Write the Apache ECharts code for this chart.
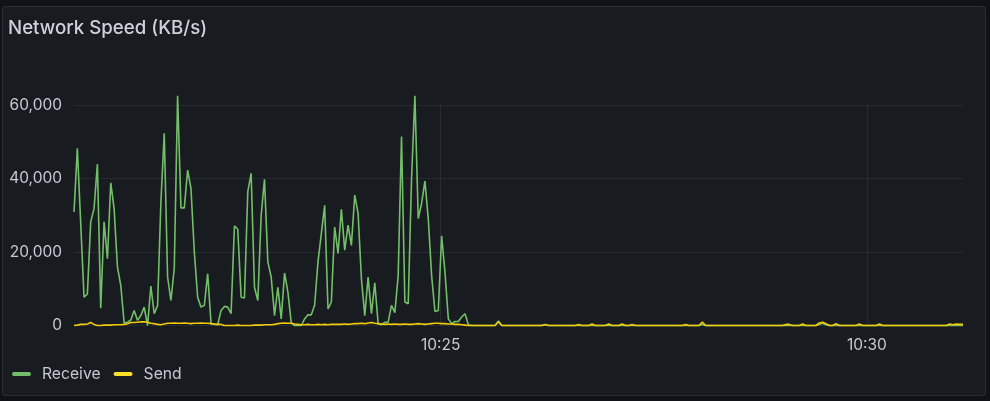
<!DOCTYPE html>
<html>
<head>
<meta charset="utf-8">
<script src="https://cdn.jsdelivr.net/npm/echarts@6/dist/echarts.min.js"></script>
<style>
  html, body { margin: 0; padding: 0; background: #111217; width: 990px; height: 401px; overflow: hidden; }
  #panel { position: absolute; left: 2px; top: 6px; width: 982px; height: 388px; background: #181b1f; border: 1px solid #2a2d33; border-radius: 3px; }
  #chart { position: absolute; left: 0; top: 0; width: 990px; height: 401px; }
</style>
</head>
<body>
<div id="panel"></div>
<div id="chart"></div>
<script>
// ---- Data ----
const TITLE = 'Network Speed (KB/s)';
const SERIES_NAMES = ['Receive', 'Send'];
const START_TIME = '2024-01-01T10:20:41.800';
const STEP_MS = 2353;
const X_TICKS = ['2024-01-01T10:25:00', '2024-01-01T10:30:00'];
const Y_TICKS = [0, 20000, 40000, 60000];

const receive = [
  30900,48200,28000,7700,8600,28200,31800,43900,4700,28200,
  18200,38800,31800,15900,10900,700,900,1500,4100,1400,2700,
  5000,0,10700,3200,5400,33600,52300,13200,6800,15500,
  62500,32000,32000,42300,37300,20000,7700,5000,5500,14100,
  500,300,200,4100,5200,5000,3200,27100,26200,
  7700,7500,36400,41400,10400,6800,30000,39800,17300,13200,
  2700,10400,1800,14300,9100,700,0,0,0,1800,
  2900,2900,5500,17300,25000,32700,4500,6400,26800,19600,31600,
  20500,27300,21800,35500,30500,12700,2700,13200,3200,11600,
  500,200,900,900,5500,3500,13600,51400,6400,5900,
  40000,62500,29100,33200,39300,29100,13600,3800,4100,24400,
  14500,1800,500,1100,1100,2300,3200,200,0,
  0,0,0,0,0,0,0,1200,0,0,
  0,0,0,0,0,0,0,0,0,0,
  0,200,0,0,0,0,0,0,0,0,
  0,0,0,0,0,0,0,0,0,0,
  100,0,0,0,100,0,0,0,0,0,
  0,0,0,0,0,0,0,0,0,0,
  0,0,0,0,0,0,0,0,300,0,
  0,0,0,0,0,0,0,0,0,0,
  0,0,0,0,0,0,0,0,0,0,
  0,0,0,0,0,0,0,0,100,0,
  0,0,0,300,600,200,0,0,100,0,
  0,0,0,0,0,0,0,0,0,0,
  0,0,0,0,0,0,0,0,0,0,
  0,0,0,0,0,0,0,0,0,0,
  0,0,100,0,100,0,0
];

const send = [
  0,100,300,300,400,800,300,0,0,100,
  100,100,200,200,200,300,500,800,800,900,
  1000,1000,900,600,500,300,200,400,600,600,
  700,600,600,700,600,500,600,600,700,600,
  600,500,400,300,300,0,0,0,0,100,
  0,0,0,0,100,100,100,200,200,200,
  300,500,600,700,600,600,400,300,200,200,
  300,200,200,300,200,300,200,300,300,300,
  300,400,300,400,500,500,600,500,700,800,
  600,500,400,300,400,300,400,300,300,400,
  300,300,400,500,400,300,400,500,600,600,
  500,500,400,400,300,300,200,100,0,0,
  0,0,0,0,0,0,0,1000,0,0,
  0,0,0,0,0,0,0,0,0,0,
  0,300,0,0,0,0,0,0,0,0,
  0,300,0,0,0,400,0,0,0,0,
  400,0,0,0,400,0,0,300,0,0,
  0,0,0,0,0,0,0,0,0,0,
  0,0,0,300,0,0,0,0,900,0,
  0,0,0,0,0,0,0,0,0,0,
  0,0,0,0,0,0,0,0,0,0,
  0,0,0,300,300,0,0,0,400,0,
  0,0,0,700,900,500,0,0,500,0,
  0,0,0,0,0,400,0,0,0,0,
  0,400,0,0,0,0,0,0,0,0,
  0,0,0,0,0,0,0,0,0,0,
  0,0,400,200,400,300,300
];

// ---- Chart ----
const t0 = new Date(START_TIME).getTime();
const times = receive.map((_, i) => t0 + i * STEP_MS);
const recvData = receive.map((v, i) => [times[i], v]);
const sendData = send.map((v, i) => [times[i], v]);
const xTickValues = X_TICKS.map(s => new Date(s).getTime());

const FONT = 'Inter, "Noto Sans", sans-serif';
const TXT = '#c8c9d3';
const GRID = 'rgba(204,204,220,0.09)';

const chart = echarts.init(document.getElementById('chart'), null, { renderer: 'canvas' });
chart.setOption({
  animation: false,
  backgroundColor: 'transparent',
  title: {
    text: TITLE, left: 8, top: 18, padding: 0,
    textStyle: { color: '#d0d1da', fontFamily: FONT, fontSize: 18.7, fontWeight: 500, lineHeight: 21 }
  },
  legend: {
    left: 12, top: 366, padding: 0, itemGap: 13,
    itemWidth: 19, itemHeight: 4,
    icon: 'path://M2,0 L17,0 A2,2 0 0 1 17,4 L2,4 A2,2 0 0 1 2,0 Z',
    data: SERIES_NAMES,
    textStyle: { color: TXT, fontFamily: FONT, fontSize: 15.7, padding: [0, 0, 0, 6] }
  },
  grid: { left: 74, right: 27, top: 105, bottom: 75.5, containLabel: false, outerBoundsMode: 'none' },
  xAxis: {
    type: 'value',
    min: times[0], max: times[times.length - 1],
    axisLine: { show: false },
    axisTick: { show: false, customValues: xTickValues },
    splitLine: { show: true, lineStyle: { color: GRID, width: 1 } },
    axisLabel: { color: TXT, fontFamily: FONT, fontSize: 15.5, margin: 12, lineHeight: 15,
      customValues: xTickValues,
      formatter: v => { const d = new Date(v); return d.getHours() + ':' + String(d.getMinutes()).padStart(2, '0'); },
      showMinLabel: true, showMaxLabel: true, hideOverlap: false }
  },
  yAxis: {
    type: 'value', min: Y_TICKS[0], max: Y_TICKS[Y_TICKS.length - 1], interval: Y_TICKS[1] - Y_TICKS[0],
    axisLine: { show: false }, axisTick: { show: false },
    splitLine: { show: true, lineStyle: { color: GRID, width: 1 } },
    axisLabel: { color: TXT, fontFamily: FONT, fontSize: 15.5, margin: 12,
      formatter: v => v.toLocaleString('en-US') }
  },
  series: [
    { name: SERIES_NAMES[0], type: 'line', data: recvData, showSymbol: false, clip: false,
      color: '#73bf69', lineStyle: { color: '#73bf69', width: 1.6 } },
    { name: SERIES_NAMES[1], type: 'line', data: sendData, showSymbol: false, clip: false,
      color: '#fade2a', lineStyle: { color: '#f2cc0c', width: 1.6 } }
  ]
});
</script>
</body>
</html>
